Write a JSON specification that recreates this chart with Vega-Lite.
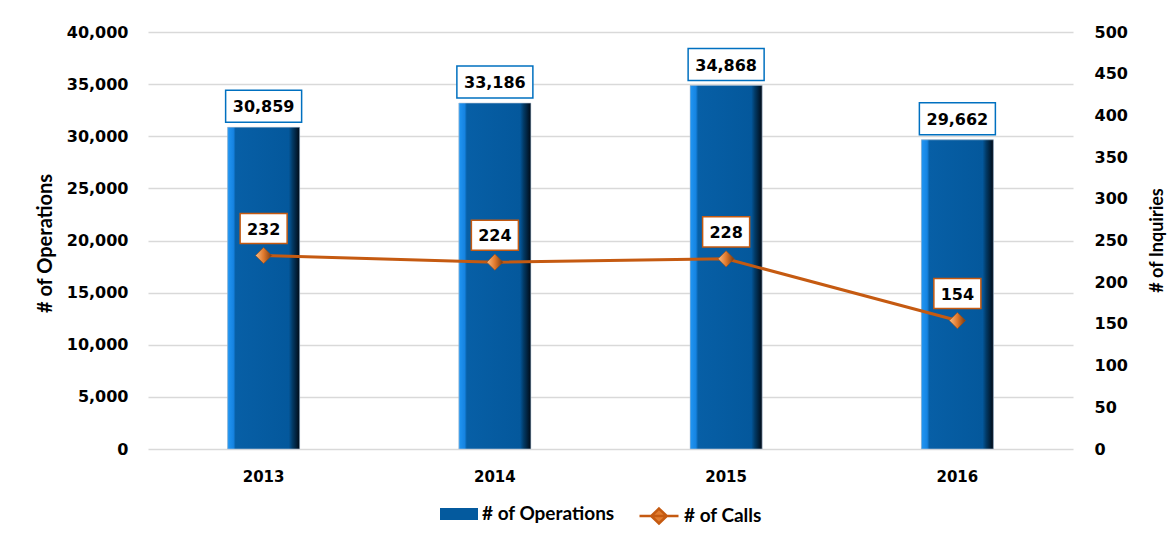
{
  "$schema": "https://vega.github.io/schema/vega-lite/v6.json",
  "width": 925,
  "height": 417,
  "autosize": {"type": "none"},
  "padding": {"left": 148, "top": 32, "right": 101, "bottom": 89},
  "background": "white",
  "config": {
    "view": {"stroke": null},
    "axis": {"labelFont": "DejaVu Sans", "labelFontWeight": "bold", "labelColor": "#000000", "titleColor": "#000000", "domain": false, "ticks": false, "tickSize": 0}
  },
  "data": {
    "values": [
      {"year": "2013", "operations": 30859, "calls": 232},
      {"year": "2014", "operations": 33186, "calls": 224},
      {"year": "2015", "operations": 34868, "calls": 228},
      {"year": "2016", "operations": 29662, "calls": 154}
    ]
  },
  "encoding": {
    "x": {
      "field": "year", "type": "nominal",
      "scale": {"type": "band", "paddingInner": 0, "paddingOuter": 0},
      "axis": {"title": null, "labelAngle": 0, "labelFontSize": 15, "labelPadding": 20, "grid": false}
    }
  },
  "layer": [
    {
      "encoding": {
        "y": {
          "field": "operations", "type": "quantitative",
          "scale": {"domain": [0, 40000]},
          "axis": {
            "orient": "left", "values": [0, 5000, 10000, 15000, 20000, 25000, 30000, 35000, 40000],
            "format": ",.0f", "labelFontSize": 16, "labelPadding": 20,
            "grid": true, "gridColor": "#D9D9D9", "gridWidth": 1.5,
            "title": "# of Operations", "titleFont": "Lato", "titleFontWeight": "bold", "titleFontSize": 20,
            "titleAngle": -90, "titleX": -103, "titleY": 211, "titleAlign": "center", "titleBaseline": "middle"
          }
        }
      },
      "layer": [
        {
          "mark": {"type": "bar", "size": 72},
          "encoding": {
            "fill": {
              "datum": "# of Operations",
              "scale": {"range": ["#045A9E"]},
              "legend": {
                "title": null, "orient": "none", "legendX": 292, "legendY": 463,
                "symbolType": "M-1,-0.32H1V0.32H-1Z", "symbolSize": 1444, "symbolStrokeWidth": 0,
                "labelFont": "Lato", "labelFontWeight": "bold", "labelFontSize": 19, "labelColor": "#000000", "labelOffset": 4
              }
            }
          }
        },
        {
          "mark": {
            "type": "bar", "size": 72,
            "fill": {
              "gradient": "linear", "x1": 0, "x2": 1, "y1": 0, "y2": 0,
              "stops": [
                {"offset": 0, "color": "#2196F3"},
                {"offset": 0.08, "color": "#1684E2"},
                {"offset": 0.11, "color": "#075FA6"},
                {"offset": 0.85, "color": "#04589C"},
                {"offset": 0.9, "color": "#023A66"},
                {"offset": 1, "color": "#000A16"}
              ]
            },
            "stroke": "#B8C8D8", "strokeWidth": 0.6
          }
        },
        {
          "mark": {
            "type": "point", "shape": "M-1,-0.42H1V0.42H-1Z", "size": 5776,
            "filled": true, "fill": "#FFFFFF", "stroke": "#0070C0", "strokeWidth": 1.5, "opacity": 1, "yOffset": -21
          }
        },
        {
          "mark": {"type": "text", "font": "DejaVu Sans", "fontWeight": "bold", "fontSize": 16, "color": "#000000", "baseline": "middle", "yOffset": -20},
          "encoding": {"text": {"field": "operations", "type": "quantitative", "format": ",.0f"}}
        }
      ]
    },
    {
      "encoding": {
        "y": {
          "field": "calls", "type": "quantitative",
          "scale": {"domain": [0, 500]},
          "axis": {
            "orient": "right", "values": [0, 50, 100, 150, 200, 250, 300, 350, 400, 450, 500],
            "format": ".0f", "labelFontSize": 16, "labelPadding": 21, "grid": false,
            "title": "# of Inquiries", "titleFont": "Lato", "titleFontWeight": "bold", "titleFontSize": 18,
            "titleAngle": -90, "titleX": 84, "titleY": 208, "titleAlign": "center", "titleBaseline": "middle"
          }
        }
      },
      "layer": [
        {
          "mark": {"type": "line", "strokeWidth": 3},
          "encoding": {
            "stroke": {
              "datum": "# of Calls",
              "scale": {"range": ["#C55A11"]},
              "legend": {
                "title": null, "orient": "none", "legendX": 490, "legendY": 463,
                "symbolType": "M-1,0H1M0,-0.38L0.4,0L0,0.38L-0.4,0Z", "symbolSize": 1521, "symbolStrokeWidth": 2.5,
                "symbolFillColor": "#E07B2E",
                "labelFont": "Lato", "labelFontWeight": "bold", "labelFontSize": 19, "labelColor": "#000000", "labelOffset": 4
              }
            }
          }
        },
        {
          "mark": {
            "type": "point", "shape": "diamond", "size": 260, "filled": true, "opacity": 1,
            "fill": {
              "gradient": "linear", "x1": 0, "x2": 1, "y1": 0, "y2": 0,
              "stops": [
                {"offset": 0, "color": "#F8BC84"},
                {"offset": 0.5, "color": "#E0792C"},
                {"offset": 1, "color": "#7A3A10"}
              ]
            },
            "stroke": "#9A4A14", "strokeWidth": 0.6
          }
        },
        {
          "mark": {
            "type": "point", "shape": "M-1,-0.64H1V0.64H-1Z", "size": 2209,
            "filled": true, "fill": "#FFFFFF", "stroke": "#C55A11", "strokeWidth": 1.5, "opacity": 1, "yOffset": -27
          }
        },
        {
          "mark": {"type": "text", "font": "DejaVu Sans", "fontWeight": "bold", "fontSize": 16, "color": "#000000", "baseline": "middle", "yOffset": -26},
          "encoding": {"text": {"field": "calls", "type": "quantitative", "format": ".0f"}}
        }
      ]
    }
  ],
  "resolve": {"scale": {"y": "independent", "fill": "independent", "stroke": "independent"}}
}
